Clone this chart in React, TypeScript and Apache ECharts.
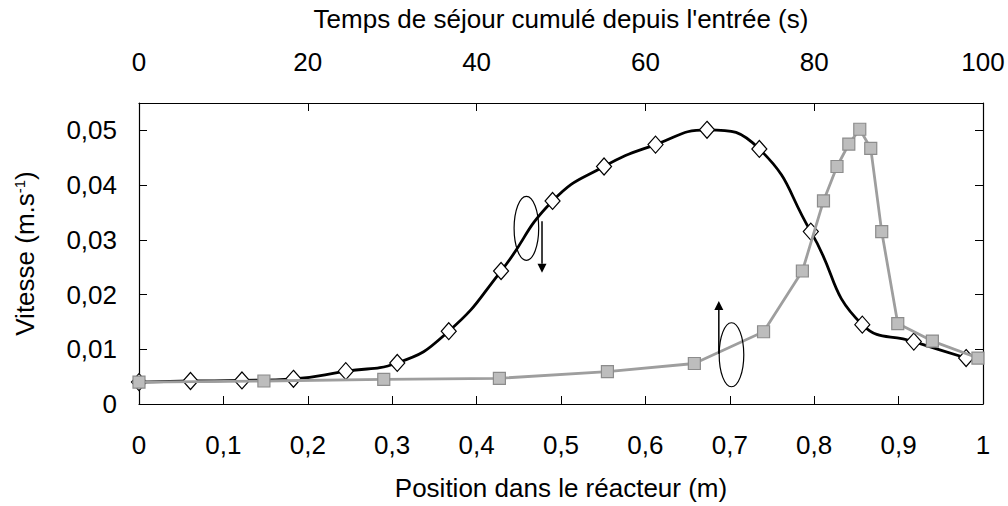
import React, { useEffect, useRef } from "react";
import * as echarts from "echarts";

// Black series: velocity vs position (bottom axis, m)
const posBlack = [0, 0.061, 0.122, 0.183, 0.245, 0.306, 0.367, 0.429, 0.49, 0.551, 0.612, 0.673, 0.735, 0.796, 0.857, 0.918, 0.98];
const vBlack = [0.004, 0.0042, 0.0043, 0.0046, 0.006, 0.0075, 0.0133, 0.0243, 0.0371, 0.0434, 0.0474, 0.0501, 0.0466, 0.0315, 0.0145, 0.0114, 0.0084];

// Gray series: velocity vs cumulative residence time (top axis, s)
const tGray = [0, 14.8, 29.0, 42.7, 55.5, 65.8, 74.0, 78.6, 81.1, 82.7, 84.1, 85.4, 86.7, 88.0, 89.9, 94.0, 99.4];
const vGray = [0.004, 0.0042, 0.0045, 0.0047, 0.0059, 0.0074, 0.0132, 0.0243, 0.0371, 0.0434, 0.0475, 0.0502, 0.0467, 0.0315, 0.0147, 0.0115, 0.0084];

// Annotations (in bottom-axis / left-axis data coordinates)
const ann1 = { cx: 0.459, cy: 0.0321, ax: 0.4775, ay0: 0.0334, ay1: 0.024 };
const ann2 = { cx: 0.702, cy: 0.009, ax: 0.687, ay0: 0.0092, ay1: 0.0188 };

const FONT = "'Liberation Sans', Arial, Helvetica, sans-serif";
const FS = 26;

const fmtComma = (v: number, d: number) => {
  if (Math.abs(v) < 1e-12) return "0";
  const r = Number(v.toFixed(d));
  return String(r).replace(".", ",");
};

export default function App() {
  const ref = useRef<HTMLDivElement>(null);
  useEffect(() => {
    if (!ref.current) return;
    const chart = echarts.init(ref.current, undefined, { renderer: "svg" });
    const axisCommon = {
      axisLine: { show: true, onZero: false, lineStyle: { color: "#000", width: 1.2 } },
      axisTick: { show: true, inside: true, length: 8, lineStyle: { color: "#000", width: 1 } },
      splitLine: { show: false },
    };
    chart.setOption({
      animation: false,
      backgroundColor: "#fff",
      grid: { left: 139, right: 25, top: 103, bottom: 98, containLabel: false },
      textStyle: { fontFamily: FONT },
      xAxis: [
        {
          type: "value",
          position: "bottom",
          min: 0,
          max: 1,
          interval: 0.1,
          ...axisCommon,
          axisLabel: {
            margin: 28,
            fontSize: FS,
            color: "#000",
            fontFamily: FONT,
            formatter: (v: number) => fmtComma(v, 1),
          },
          name: "Position dans le réacteur (m)",
          nameLocation: "middle",
          nameGap: 71,
          nameTextStyle: { fontSize: FS, color: "#000", fontFamily: FONT },
        },
        {
          type: "value",
          position: "top",
          min: 0,
          max: 100,
          interval: 20,
          ...axisCommon,
          axisLabel: {
            margin: 28,
            fontSize: FS,
            color: "#000",
            fontFamily: FONT,
            formatter: (v: number) => String(v),
          },
          name: "Temps de séjour cumulé depuis l'entrée (s)",
          nameLocation: "middle",
          nameGap: 71,
          nameTextStyle: { fontSize: FS, color: "#000", fontFamily: FONT },
        },
      ],
      yAxis: [
        {
          type: "value",
          position: "left",
          min: 0,
          max: 0.055,
          interval: 0.01,
          ...axisCommon,
          axisLabel: {
            margin: 22,
            fontSize: FS,
            color: "#000",
            fontFamily: FONT,
            showMaxLabel: false,
            formatter: (v: number) => (v > 0.0505 ? "" : fmtComma(v, 2)),
          },
          name: "Vitesse (m.s{sup|-1})",
          nameLocation: "middle",
          nameGap: 101,
          nameRotate: 90,
          nameTextStyle: {
            fontSize: FS,
            color: "#000",
            fontFamily: FONT,
            rich: {
              sup: { fontSize: 15, color: "#000", fontFamily: FONT, verticalAlign: "bottom", padding: [0, 0, 11, 0] },
            },
          },
        },
        {
          type: "value",
          position: "right",
          min: 0,
          max: 0.055,
          interval: 0.01,
          ...axisCommon,
          axisLabel: { show: false },
        },
      ],
      series: [
        {
          type: "line",
          name: "position",
          xAxisIndex: 0,
          yAxisIndex: 0,
          data: posBlack.map((x, i) => [x, vBlack[i]]),
          smooth: 0.5,
          symbol: "diamond",
          symbolSize: [15, 17],
          lineStyle: { color: "#000", width: 2.8 },
          itemStyle: { color: "#fff", borderColor: "#000", borderWidth: 1.2 },
          z: 2,
        },
        {
          type: "line",
          name: "temps",
          xAxisIndex: 1,
          yAxisIndex: 0,
          data: tGray.map((x, i) => [x, vGray[i]]),
          smooth: false,
          symbol: "rect",
          symbolSize: 12,
          lineStyle: { color: "#9e9e9e", width: 2.8 },
          itemStyle: { color: "#bdbdbd", borderColor: "#8c8c8c", borderWidth: 1.2 },
          z: 3,
        },
      ],
    });

    const px = (x: number, y: number) =>
      chart.convertToPixel({ xAxisIndex: 0, yAxisIndex: 0 }, [x, y]) as number[];

    const makeAnn = (a: typeof ann1) => {
      const c = px(a.cx, a.cy);
      const p0 = px(a.ax, a.ay0);
      const p1 = px(a.ax, a.ay1);
      const dir = p1[1] > p0[1] ? 1 : -1;
      const head = 9;
      return [
        {
          type: "ellipse",
          shape: { cx: c[0], cy: c[1], rx: 12.3, ry: 32 },
          style: { fill: "none", stroke: "#000", lineWidth: 1.2 },
          z: 10,
        },
        {
          type: "line",
          shape: { x1: p0[0], y1: p0[1], x2: p1[0], y2: p1[1] - dir * head },
          style: { stroke: "#000", lineWidth: 1.5 },
          z: 10,
        },
        {
          type: "polygon",
          shape: {
            points: [
              [p1[0] - 4.5, p1[1] - dir * head],
              [p1[0] + 4.5, p1[1] - dir * head],
              [p1[0], p1[1]],
            ],
          },
          style: { fill: "#000" },
          z: 10,
        },
      ];
    };

    chart.setOption({ graphic: [...makeAnn(ann1), ...makeAnn(ann2)] });

    return () => chart.dispose();
  }, []);

  return (
    <div
      ref={ref}
      style={{ position: "fixed", left: 0, top: 0, width: 1008, height: 506, background: "#fff" }}
    />
  );
}
